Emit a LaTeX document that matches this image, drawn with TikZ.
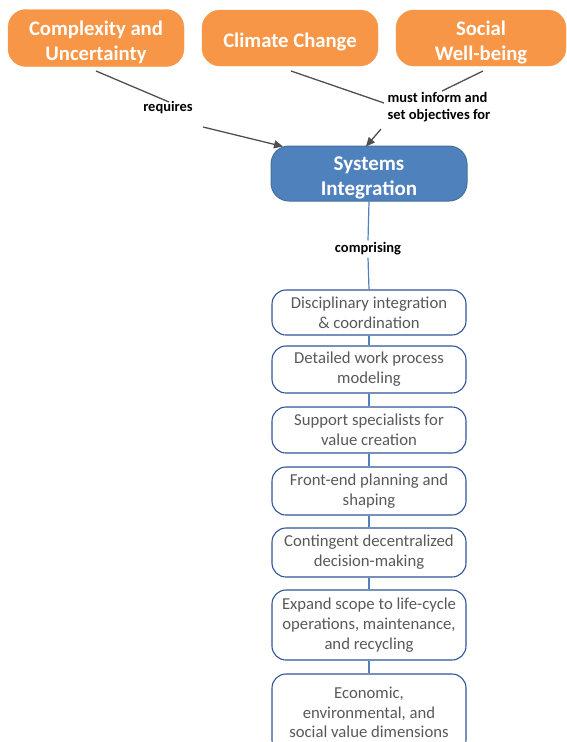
\documentclass[tikz,border=0pt]{standalone}
\usepackage{fontspec}
\setmainfont{Carlito}
\usetikzlibrary{arrows.meta}
\definecolor{orangeA}{HTML}{F79646}
\definecolor{blueA}{HTML}{4F81BD}
\definecolor{blueB}{HTML}{41719C}
\definecolor{navyA}{HTML}{2F5597}
\definecolor{grayT}{HTML}{595959}
\definecolor{grayL}{HTML}{505050}
\tikzset{
  topbox/.style={fill=orangeA, draw=orangeA, rounded corners=18pt, inner sep=0pt},
  bigtxt/.style={text=white, font=\fontsize{20.7}{25}\selectfont\bfseries, align=center, inner sep=0pt},
  sibox/.style={fill=blueA, draw=blueB, line width=1pt, rounded corners=18pt, inner sep=0pt,
    minimum width=196pt, minimum height=55pt},
  itembox/.style={fill=white, draw=navyA, line width=1.1pt, rounded corners=14pt, text=grayT,
    font=\fontsize{16.7}{20}\selectfont, align=center, inner sep=0pt, minimum width=194pt},
  lbl/.style={font=\fontsize{14.5}{17}\selectfont\bfseries, text=black, fill=white, inner sep=2pt},
  gline/.style={draw=grayL, line width=1.3pt},
  garrow/.style={gline, -{Triangle[length=9pt,width=8pt]}},
  bline/.style={draw=blueA, line width=1.2pt}
}
\begin{document}
\begin{tikzpicture}[x=1pt,y=-1pt]
\useasboundingbox (0,0) rectangle (567,742);
\clip (0,0) rectangle (567,742);
% top boxes
\node[topbox, minimum width=176pt, minimum height=57pt] (cu) at (96,38) {};
\node[bigtxt, yshift=-4.5pt] (cuT) at (cu.center) {Complexity and\\Uncertainty};
\node[topbox, minimum width=176pt, minimum height=56pt] (cc) at (290,38) {};
\node[bigtxt, yshift=-4pt] (ccT) at (cc.center) {Climate Change};
\node[topbox, minimum width=170pt, minimum height=56pt] (sw) at (481,38) {};
\node[bigtxt, yshift=-4.5pt] (swT) at (sw.center) {Social\\Well-being};
% systems integration
\node[sibox] (si) at (369,173.5) {};
\node[bigtxt, font=\fontsize{21}{25}\selectfont\bfseries, yshift=-4.5pt] (siT) at (si.center) {Systems\\Integration};
% labels
\node[lbl] (req) at (168,108) {requires};
\node[lbl, align=left] (mi) at (439,107) {must inform and\\set objectives for};
\node[lbl] (comp) at (368,249) {comprising};
% item boxes
\node[itembox, minimum height=45pt] (i1) at (369,312.5) {Disciplinary integration\\\& coordination};
\node[itembox, minimum height=47pt] (i2) at (369,369.5) {Detailed work process\\modeling};
\node[itembox, minimum height=46pt] (i3) at (369,430) {Support specialists for\\value creation};
\node[itembox, minimum height=48pt] (i4) at (369,491) {Front-end planning and\\shaping};
\node[itembox, minimum height=49pt] (i5) at (369,552.5) {Contingent decentralized\\decision-making};
\node[itembox, minimum height=70pt] (i6) at (369,625) {Expand scope to life-cycle\\operations, maintenance,\\and recycling};
\node[itembox, minimum height=80pt] (i7) at (369,714) {};
\node[font=\fontsize{16.7}{19.5}\selectfont, text=grayT, align=center, inner sep=0pt] (i7T) at (369,712.5) {Economic,\\environmental, and\\social value dimensions};
% connectors
\coordinate (cuS) at (96,71);
\coordinate (ccS) at (291,71);
\coordinate (swS) at (483,71);
\coordinate (reqA) at (169,102);
\coordinate (reqB) at (203,127);
\coordinate (ccE) at (384,103);
\coordinate (swE) at (442,91);
\coordinate (miB) at (381,129);
\draw[gline] (cuS) -- (reqA);
\draw[garrow] (reqB) -- (283,146.5);
\draw[gline] (ccS) -- (ccE);
\draw[gline] (swS) -- (swE);
\draw[garrow] (miB) -- (366,146.5);
\draw[bline] (si.south) -- (comp.north);
\draw[bline] (comp.south) -- (i1.north);
\draw[bline] (i1.south) -- (i2.north);
\draw[bline] (i2.south) -- (i3.north);
\draw[bline] (i3.south) -- (i4.north);
\draw[bline] (i4.south) -- (i5.north);
\draw[bline] (i5.south) -- (i6.north);
\draw[bline] (i6.south) -- (i7.north);
\end{tikzpicture}
\end{document}
